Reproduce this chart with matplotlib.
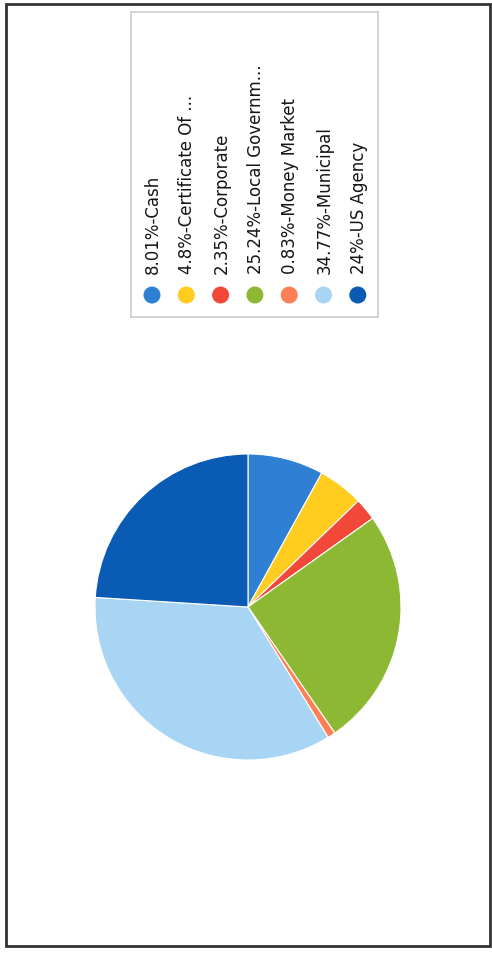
import matplotlib
matplotlib.use("Agg")
import matplotlib.pyplot as plt
from matplotlib.patches import Rectangle

# holdings share
labels = ["8.01%-Cash", "4.8%-Certificate Of ...", "2.35%-Corporate",
          "25.24%-Local Governm...", "0.83%-Money Market", "34.77%-Municipal",
          "24%-US Agency"]
shares = [8.01, 4.8, 2.35, 25.24, 0.83, 34.77, 24.0]
colors = ["#2f80d5", "#ffcc1f", "#f2483a", "#8cb833", "#ff7f55", "#a9d5f5", "#0a5bb4"]

W, H = 492, 955
fig = plt.figure(figsize=(W / 100, H / 100), dpi=100)
fig.patch.set_facecolor("white")

# outer frame of the scanned panel
fig.add_artist(Rectangle((6 / W, 1 - 946 / H), 484 / W, 942 / H, transform=fig.transFigure,
                         fill=False, edgecolor="#333333", linewidth=2))

# pie (clockwise from the top)
cx, cy, r = 248, 607, 153
ax = fig.add_axes([(cx - r) / W, 1 - (cy + r) / H, 2 * r / W, 2 * r / H])
ax.pie(shares, colors=colors, startangle=90, counterclock=False,
       wedgeprops=dict(edgecolor="white", linewidth=0.8))
ax.set_xlim(-1, 1)
ax.set_ylim(-1, 1)
ax.set_aspect("equal")

# legend box, text running bottom to top
lx0, ly0, lx1, ly1 = 131, 12, 378, 317
lax = fig.add_axes([lx0 / W, 1 - ly1 / H, (lx1 - lx0) / W, (ly1 - ly0) / H])
lax.set_xlim(lx0, lx1)
lax.set_ylim(ly1, ly0)
lax.set_xticks([])
lax.set_yticks([])
for s in lax.spines.values():
    s.set_edgecolor("#cccccc")
    s.set_linewidth(1.2)

xs = [152 + 34.3 * i for i in range(len(labels))]
lax.scatter(xs, [295] * len(xs), s=150, c=colors, edgecolors="none")
for x, lab in zip(xs, labels):
    lax.text(x + 1, 274, lab, rotation=90, ha="center", va="bottom",
             fontsize=12, family="DejaVu Sans", color="#151515")

fig.savefig("out.png", dpi=100)
